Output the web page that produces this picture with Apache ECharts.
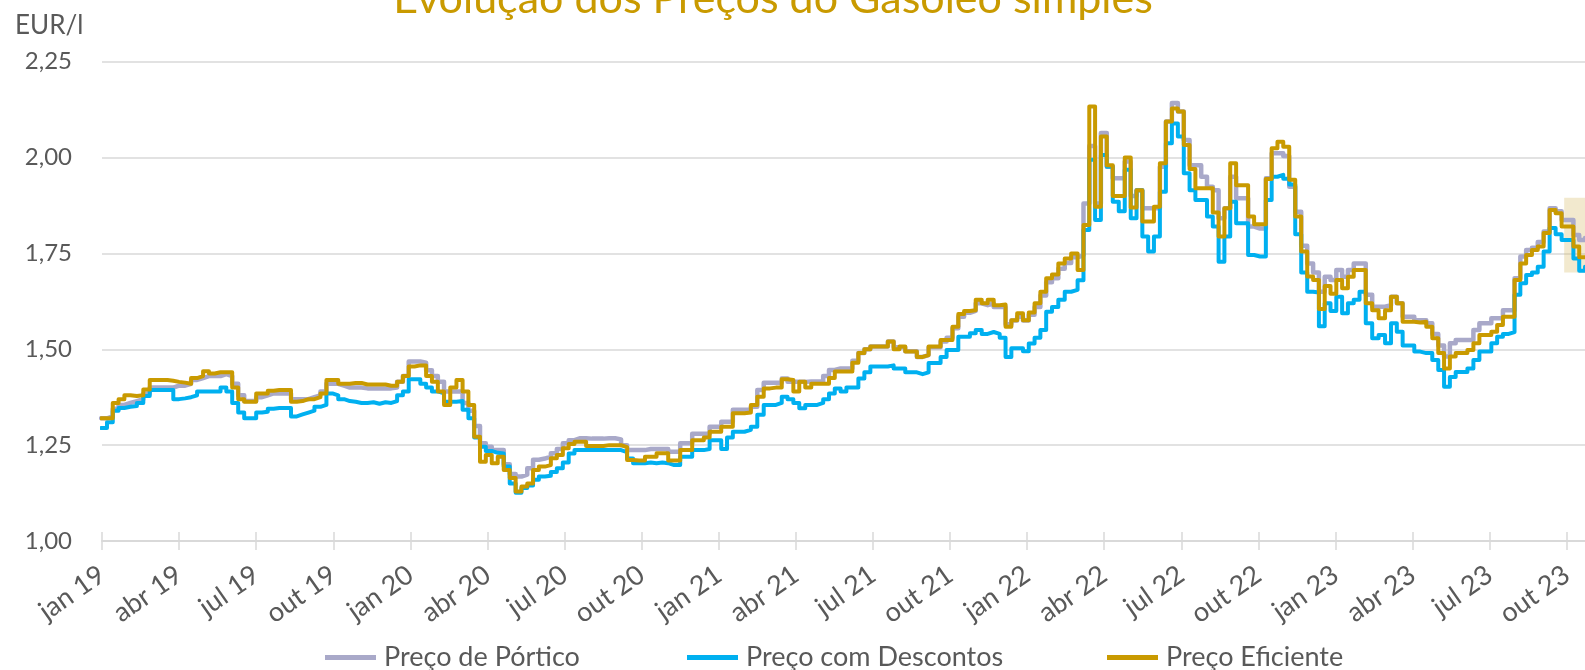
<!DOCTYPE html>
<html><head><meta charset="utf-8">
<script src="https://cdn.jsdelivr.net/npm/echarts@6/dist/echarts.min.js"></script>
<style>html,body{margin:0;padding:0;background:#fff}#c{width:1585px;height:670px}</style>
</head><body><div id="c"></div>
<script>
const TITLE = 'Evolução dos Preços do Gasóleo simples';
const Y_UNIT = 'EUR/l';
const SERIES_NAMES = ['Preço de Pórtico', 'Preço com Descontos', 'Preço Eficiente'];
const QUARTER_LABELS = ['jan', 'abr', 'jul', 'out'];
const Y_TICKS = [1.00, 1.25, 1.50, 1.75, 2.00, 2.25];
const FIRST_WEEK = '2018-12-31';   // weekly price dates, one value per week from here
const X_END = '2023-10-23';
const HIGHLIGHT = { from: '2023-09-28', to: '2023-10-23', yMin: 1.70, yMax: 1.895 };

const portico = [
1.32,1.325,1.345,1.355,1.36,1.365,1.37,1.385,1.40,1.40,
1.40,1.40,1.405,1.405,1.41,1.42,1.425,1.43,1.43,1.43,
1.435,1.43,1.41,1.38,1.365,1.365,1.375,1.38,1.385,1.385,
1.385,1.385,1.37,1.37,1.37,1.375,1.38,1.39,1.41,1.41,
1.405,1.40,1.40,1.40,1.398,1.398,1.398,1.398,1.398,1.40,
1.415,1.43,1.468,1.468,1.465,1.445,1.43,1.415,1.39,1.39,
1.39,1.36,1.34,1.30,1.255,1.246,1.237,1.237,1.20,1.175,
1.168,1.173,1.19,1.212,1.215,1.22,1.229,1.24,1.255,1.263,
1.268,1.268,1.267,1.267,1.267,1.268,1.268,1.265,1.25,1.237,
1.237,1.237,1.24,1.24,1.24,1.24,1.233,1.233,1.255,1.255,
1.28,1.28,1.28,1.298,1.298,1.311,1.311,1.342,1.342,1.342,
1.35,1.394,1.413,1.413,1.413,1.424,1.415,1.415,1.415,1.416,
1.416,1.416,1.43,1.446,1.45,1.45,1.45,1.47,1.49,1.50,
1.507,1.507,1.507,1.52,1.505,1.505,1.495,1.495,1.48,1.485,
1.505,1.505,1.52,1.53,1.555,1.585,1.595,1.60,1.62,1.615,
1.62,1.61,1.61,1.565,1.575,1.585,1.575,1.59,1.61,1.64,
1.675,1.685,1.71,1.725,1.74,1.745,1.88,2.03,1.88,2.064,
1.976,1.946,1.946,1.99,1.90,1.915,1.868,1.868,1.868,1.976,
2.094,2.142,2.12,2.046,1.98,1.98,1.95,1.924,1.915,1.842,
1.868,1.95,1.894,1.894,1.82,1.815,1.815,1.946,2.011,2.011,
2.004,1.924,1.859,1.77,1.724,1.70,1.65,1.689,1.681,1.707,
1.689,1.707,1.724,1.724,1.642,1.611,1.611,1.615,1.637,1.62,
1.585,1.585,1.576,1.576,1.568,1.54,1.51,1.481,1.516,1.524,
1.524,1.524,1.55,1.568,1.568,1.581,1.581,1.602,1.602,1.685,
1.742,1.759,1.765,1.78,1.807,1.868,1.86,1.837,1.837,1.798,
1.785,1.79
];
const descontos = [
1.295,1.31,1.34,1.347,1.35,1.352,1.36,1.378,1.394,1.394,
1.394,1.394,1.37,1.372,1.375,1.38,1.39,1.39,1.39,1.39,
1.40,1.39,1.36,1.335,1.32,1.32,1.335,1.337,1.345,1.347,
1.347,1.347,1.325,1.33,1.335,1.34,1.35,1.355,1.385,1.38,
1.37,1.365,1.363,1.36,1.36,1.362,1.358,1.362,1.36,1.365,
1.38,1.39,1.422,1.422,1.41,1.40,1.39,1.385,1.363,1.363,
1.365,1.342,1.32,1.27,1.246,1.235,1.23,1.228,1.194,1.15,
1.126,1.138,1.145,1.16,1.168,1.17,1.18,1.19,1.205,1.228,
1.237,1.237,1.237,1.237,1.237,1.237,1.237,1.237,1.232,1.215,
1.203,1.203,1.205,1.203,1.205,1.203,1.198,1.198,1.22,1.22,
1.237,1.237,1.24,1.263,1.263,1.24,1.27,1.285,1.285,1.29,
1.298,1.329,1.355,1.355,1.36,1.376,1.37,1.36,1.346,1.355,
1.355,1.36,1.37,1.385,1.398,1.39,1.40,1.40,1.424,1.44,
1.455,1.455,1.455,1.458,1.45,1.45,1.44,1.44,1.435,1.44,
1.464,1.464,1.48,1.498,1.498,1.533,1.533,1.542,1.55,1.54,
1.545,1.54,1.53,1.48,1.503,1.503,1.495,1.515,1.53,1.55,
1.598,1.61,1.629,1.65,1.655,1.68,1.811,1.994,1.837,2.007,
1.976,1.885,1.86,1.968,1.842,1.915,1.794,1.755,1.794,1.911,
2.037,2.089,2.055,1.959,1.915,1.889,1.889,1.846,1.82,1.728,
1.794,1.885,1.829,1.829,1.746,1.742,1.742,1.889,1.95,1.955,
1.945,1.93,1.80,1.70,1.65,1.648,1.56,1.62,1.60,1.637,
1.594,1.62,1.629,1.65,1.568,1.529,1.537,1.516,1.568,1.546,
1.51,1.51,1.494,1.49,1.49,1.472,1.446,1.402,1.428,1.441,
1.441,1.45,1.472,1.494,1.494,1.516,1.533,1.54,1.545,1.642,
1.672,1.694,1.70,1.715,1.755,1.816,1.80,1.785,1.785,1.737,
1.705,1.715
];
const eficiente = [
1.32,1.32,1.36,1.37,1.38,1.378,1.38,1.395,1.42,1.42,
1.42,1.418,1.415,1.413,1.41,1.425,1.43,1.443,1.437,1.44,
1.44,1.44,1.40,1.37,1.363,1.363,1.385,1.385,1.392,1.394,
1.394,1.394,1.363,1.365,1.37,1.37,1.375,1.385,1.42,1.42,
1.41,1.41,1.412,1.412,1.408,1.408,1.408,1.408,1.405,1.405,
1.415,1.43,1.455,1.458,1.458,1.43,1.415,1.39,1.355,1.40,
1.42,1.39,1.355,1.272,1.207,1.224,1.203,1.22,1.185,1.164,
1.129,1.142,1.15,1.185,1.194,1.198,1.216,1.224,1.242,1.253,
1.259,1.259,1.248,1.248,1.248,1.25,1.25,1.25,1.245,1.211,
1.21,1.21,1.22,1.22,1.229,1.229,1.21,1.21,1.237,1.237,
1.263,1.263,1.27,1.285,1.285,1.298,1.298,1.333,1.333,1.335,
1.355,1.376,1.398,1.40,1.40,1.422,1.42,1.39,1.415,1.40,
1.41,1.41,1.41,1.425,1.442,1.442,1.442,1.465,1.49,1.50,
1.507,1.507,1.507,1.52,1.50,1.507,1.494,1.494,1.48,1.485,
1.507,1.507,1.524,1.524,1.559,1.592,1.60,1.602,1.629,1.62,
1.629,1.615,1.617,1.559,1.576,1.594,1.576,1.596,1.62,1.65,
1.685,1.695,1.724,1.737,1.75,1.707,1.824,2.133,1.872,2.055,
1.98,1.90,1.90,2.00,1.87,1.915,1.833,1.833,1.872,1.985,
2.094,2.128,2.12,2.033,1.97,1.92,1.92,1.92,1.857,1.794,
1.868,1.985,1.928,1.928,1.846,1.826,1.826,1.944,2.024,2.041,
2.028,1.942,1.846,1.755,1.69,1.681,1.605,1.665,1.645,1.681,
1.659,1.689,1.707,1.707,1.62,1.602,1.581,1.602,1.637,1.62,
1.572,1.572,1.57,1.572,1.559,1.529,1.49,1.45,1.481,1.49,
1.49,1.498,1.516,1.537,1.537,1.546,1.563,1.585,1.585,1.681,
1.724,1.746,1.759,1.768,1.803,1.863,1.855,1.82,1.82,1.768,
1.74,1.74
];
const COLORS = ['#A9A9C9', '#00B0F0', '#C99A00'];

function parseDate(s) { const p = s.split('-').map(Number); return new Date(Date.UTC(p[0], p[1] - 1, p[2])); }
// position on a month-based axis: months elapsed since jan 2019
function monthIndex(d) {
  const y = d.getUTCFullYear(), m = d.getUTCMonth(), day = d.getUTCDate();
  const dim = new Date(Date.UTC(y, m + 1, 0)).getUTCDate();
  return (y - 2019) * 12 + m + (day - 1) / dim;
}
const start = parseDate(FIRST_WEEK);
const weekX = portico.map((_, i) => monthIndex(new Date(start.getTime() + i * 7 * 86400000)));
const xMax = monthIndex(parseDate(X_END));
const quarterTicks = [];
for (let q = 0; q <= Math.floor(xMax); q += 3) quarterTicks.push(q);
function quarterLabel(v) {
  const q = Math.round(v);
  return QUARTER_LABELS[(q % 12) / 3] + ' ' + (19 + Math.floor(q / 12));
}
const FONT = 'Lato';
const values = [portico, descontos, eficiente];
const widths = [4.5, 4, 4];

const series = SERIES_NAMES.map((name, k) => ({
  name, type: 'line', step: 'end', showSymbol: false, symbol: 'none',
  data: values[k].map((v, i) => [weekX[i], v]),
  lineStyle: { width: widths[k], color: COLORS[k], cap: 'round', join: 'round' },
  itemStyle: { color: COLORS[k] },
  z: 2 + k, silent: true
}));
series.push({
  type: 'line', data: [], silent: true, z: 10,
  markArea: {
    silent: true,
    itemStyle: { color: 'rgba(214,186,104,0.32)' },
    data: [[{ coord: [monthIndex(parseDate(HIGHLIGHT.from)), HIGHLIGHT.yMin] },
            { coord: [monthIndex(parseDate(HIGHLIGHT.to)), HIGHLIGHT.yMax] }]]
  }
});

const chart = echarts.init(document.getElementById('c'), null, { renderer: 'canvas' });
chart.setOption({
  animation: false,
  backgroundColor: '#ffffff',
  title: [
    { text: Y_UNIT, left: 10, top: 8, textStyle: { color: '#595959', fontSize: 26, fontWeight: 'normal', fontFamily: FONT } }
  ],
  graphic: [{
    type: 'text', x: 773, y: -22, silent: true,
    style: { text: TITLE, fill: '#C99A00', font: '43px Lato', align: 'center', verticalAlign: 'top' }
  }],
  legend: SERIES_NAMES.map((n, k) => ({
    data: [n], left: [325, 687, 1107][k], top: 644, padding: 0, icon: 'rect', itemWidth: 51, itemHeight: 5,
    selectedMode: false,
    textStyle: { fontSize: 27, color: '#595959', fontFamily: FONT, padding: [0, 0, 0, 3] }
  })),
  grid: { left: 102, right: 0, top: 61.7, bottom: 129, containLabel: false },
  xAxis: [{
    type: 'value', min: 0, max: xMax, position: 'bottom',
    axisLine: { show: true, lineStyle: { color: '#D9D9D9', width: 2 } },
    axisTick: { show: true, length: 9, customValues: quarterTicks, lineStyle: { color: '#D9D9D9', width: 1.5 } },
    axisLabel: { customValues: quarterTicks, formatter: quarterLabel, rotate: 35, margin: 31, color: '#595959', fontSize: 27, fontFamily: FONT },
    splitLine: { show: false }
  }, {
    type: 'value', min: 0, max: xMax, position: 'bottom', offset: 0,
    axisLine: { show: false },
    axisTick: { show: true, inside: true, length: 9, customValues: quarterTicks, lineStyle: { color: '#D9D9D9', width: 1.5 } },
    axisLabel: { show: false }, splitLine: { show: false }
  }],
  yAxis: {
    type: 'value', min: Y_TICKS[0], max: Y_TICKS[Y_TICKS.length - 1], interval: 0.25,
    axisLine: { show: false }, axisTick: { show: false },
    axisLabel: { formatter: v => v.toFixed(2).replace('.', ','), margin: 30, color: '#595959', fontSize: 24, fontFamily: FONT },
    splitLine: { lineStyle: { color: '#D9D9D9', width: 1.5 } }
  },
  series
});
</script></body></html>
